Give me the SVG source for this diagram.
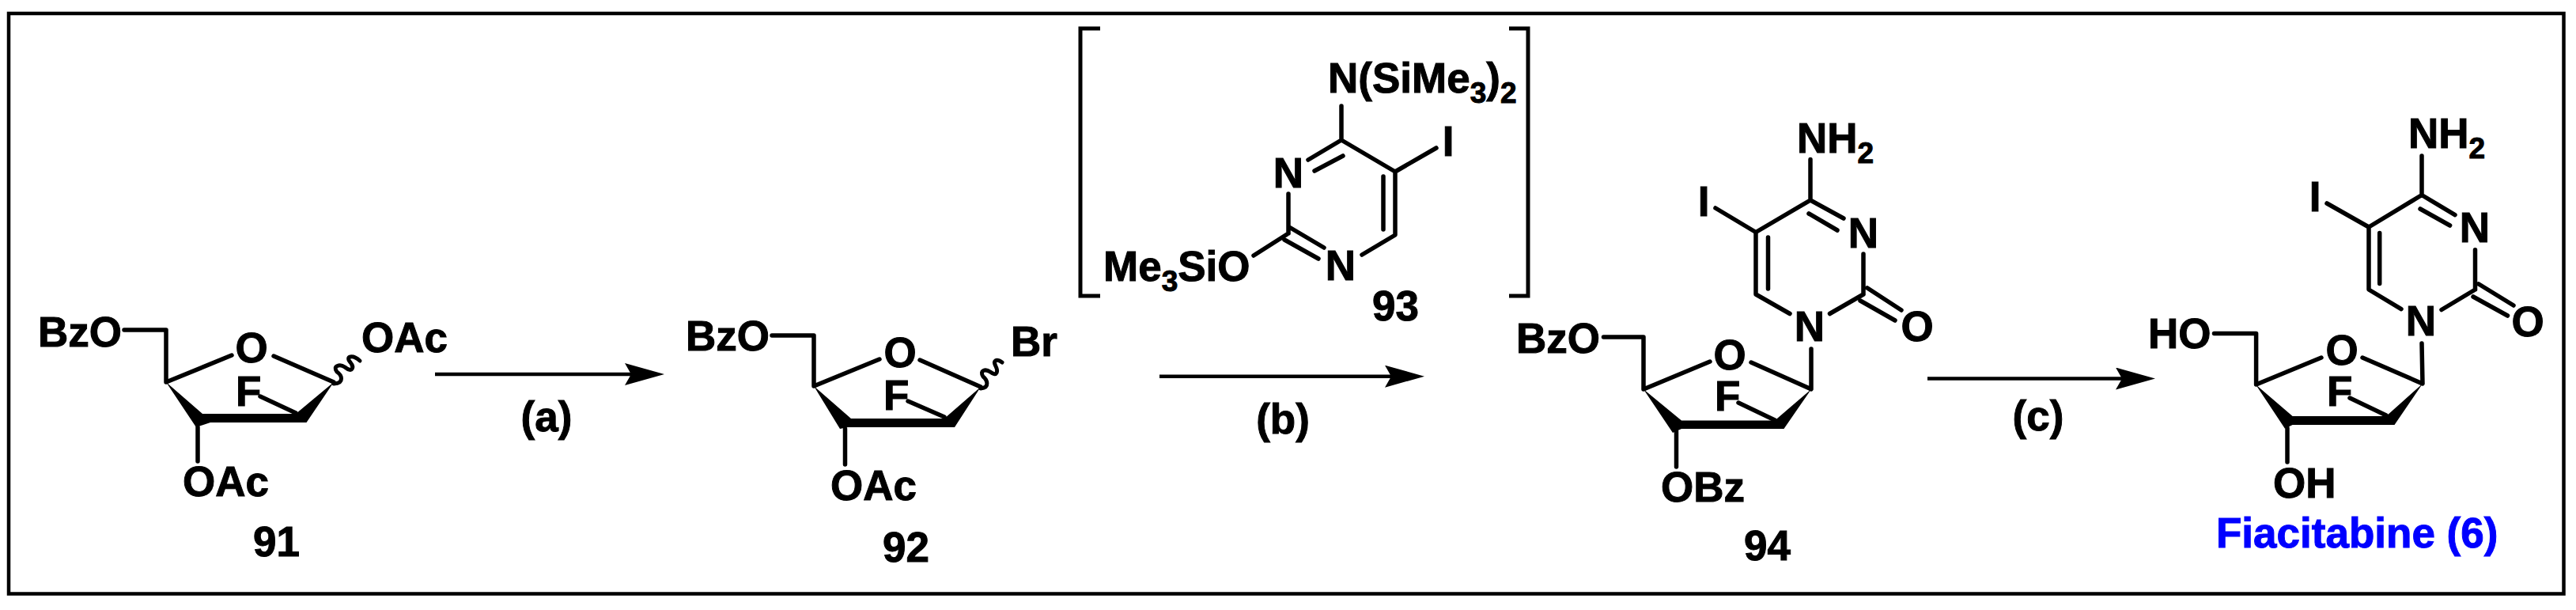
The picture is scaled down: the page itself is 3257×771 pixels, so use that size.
<svg xmlns="http://www.w3.org/2000/svg" width="3257" height="771" viewBox="0 0 3257 771">
<style>
text{font-family:"Liberation Sans",Arial,sans-serif;font-weight:700;font-size:53px;fill:#000;stroke:#000;stroke-width:1}
.m{text-anchor:middle}
.s{font-size:37px}
.f{fill:#00f;stroke:#00f;font-size:53px}
.b{fill:none;stroke:#000;stroke-width:5.500;stroke-linecap:round;stroke-linejoin:round}
.k{fill:none;stroke:#000;stroke-width:5;stroke-linecap:butt;stroke-linejoin:miter}
.w{fill:#000;stroke:none}
.a{fill:none;stroke:#000;stroke-width:4.500}
</style>
<defs>
<marker id="h" markerUnits="userSpaceOnUse" markerWidth="52" markerHeight="28" refX="8" refY="14" orient="auto" viewBox="0 0 52 28"><path d="M0 0L50 14L0 28L8 14Z" fill="#000"/></marker>
</defs>
<rect width="3257" height="771" fill="#fff"/>
<rect id="frame" x="11" y="17" width="3230.500" height="733.500" fill="none" stroke="#000" stroke-width="4.500"/>
<g id="connectors">
<line class="a" x1="550" y1="473" x2="798" y2="473" marker-end="url(#h)"/>
<line class="a" x1="1466" y1="475.700" x2="1759" y2="475.700" marker-end="url(#h)"/>
<line class="a" x1="2437" y1="478.500" x2="2683" y2="478.500" marker-end="url(#h)"/>
</g>
<g id="c91">
<path class="b" d="M157 417H210V483L293 449M346 450L422 483M329 501L374 522M250 540V583"/>
<path class="b" style="stroke-width:5" d="M422 485C436 484 432 474 426 470C420 462 430 460 436 464C446 472 448 464 443 458C436 450 446 448 455 456"/>
<path class="w" d="M210 483L256 523H374L422 483L387.500 534H266L248 540Z"/>
<text x="48" y="438">BzO</text><text class="m" x="318" y="458">O</text><text x="457" y="445">OAc</text><text x="298" y="513">F</text><text x="231" y="627">OAc</text><text x="320" y="703">91</text><text class="m" x="691" y="545">(a)</text>
</g>
<g id="c92">
<path class="b" d="M976 424H1029V488L1112 454M1163 455L1240 489M1148 507L1194 527M1068.500 542V587"/>
<path class="b" style="stroke-width:5" d="M1240 491C1252 490 1248 480 1243 476C1238 468 1246 466 1252 470C1261 477 1262 469 1259 463C1255 455 1260 453 1267 458"/>
<path class="w" d="M1029 488L1076 529H1194L1240 489L1207 540H1072L1062 542Z"/>
<text x="867" y="443">BzO</text><text class="m" x="1138" y="464">O</text><text x="1278" y="450">Br</text><text x="1117" y="518">F</text><text x="1050" y="632">OAc</text><text x="1116" y="710">92</text>
</g>
<g id="c93">
<path class="k" d="M1391 36H1366V374H1391M1908 36H1932V374H1908"/>
<path class="b" d="M1696 134V177L1764 217V297L1722 322M1630 287L1674 313M1624 303L1667 327M1629 295V245M1654 202L1696 177M1662 216L1698 197M1749 223V290M1764 217L1816 187M1629 295L1585 323"/>
<text x="1679" y="117">N(SiMe<tspan class="s" dy="13">3</tspan><tspan dy="-13">)</tspan><tspan class="s" dy="13">2</tspan></text>
<text class="m" x="1629" y="237">N</text><text class="m" x="1695" y="354">N</text><text class="m" x="1831" y="197">I</text>
<text x="1395" y="355">Me<tspan class="s" dy="13">3</tspan><tspan dy="-13">SiO</tspan></text><text x="1735" y="405">93</text>
<text class="m" x="1622" y="548">(b)</text>
</g>
<g id="c94">
<path class="b" d="M2289 201.500V253L2220 293.500V372L2263 396.500M2356 372L2313.500 396.500M2356 372V321M2289 253L2331 276M2287 270L2323 291M2235.500 300V365M2220 293.500L2169 263M2361 364L2404 392M2352 380L2396 405M2027.500 426H2078V492L2162 457M2214 458L2290 492V441M2198 509L2244 531M2119.500 545V590"/>
<path class="w" d="M2078 492L2126 531.500H2244L2290 492L2255.500 542H2126L2115 547Z"/>
<text x="2272" y="192.500">NH<tspan class="s" dy="13">2</tspan></text>
<text class="m" x="2288" y="430.500">N</text><text class="m" x="2356" y="313">N</text><text class="m" x="2154" y="273">I</text><text class="m" x="2424" y="431">O</text>
<text x="1917" y="445.500">BzO</text><text class="m" x="2187" y="467">O</text><text x="2168" y="519">F</text><text x="2100" y="634">OBz</text><text x="2205" y="707.500">94</text>
</g>
<g id="c6">
<path class="b" d="M3062 197V246.500L2995 287V366L3036 390.600M3129.500 366L3087 391.500M3129.500 366V315.700M3062 246.500L3104 271.600M3060 264L3097.600 285M3008.700 294.500V358.400M2995 287L2942 257M3134 359L3178 386M3127 375L3170.500 399M2799.500 421.400H2852.600V486L2935 452M2987 452L3063 485L3062 434M2971 503L3017 525M2892 541V584"/>
<path class="w" d="M2852 486L2898.600 526H3017L3063 485L3027.500 537H2898.600L2889 541.700Z"/>
<text x="3045" y="187">NH<tspan class="s" dy="13">2</tspan></text>
<text class="m" x="3061" y="423.600">N</text><text class="m" x="3129" y="306">N</text><text class="m" x="2927" y="267">I</text><text class="m" x="3196" y="424.500">O</text>
<text x="2716" y="440">HO</text><text class="m" x="2961" y="461">O</text><text x="2942" y="513">F</text><text x="2874" y="628.500">OH</text>
<text class="f" x="2802" y="691.500">Fiacitabine (6)</text>
<text class="m" x="2577" y="544">(c)</text>
</g>
</svg>
